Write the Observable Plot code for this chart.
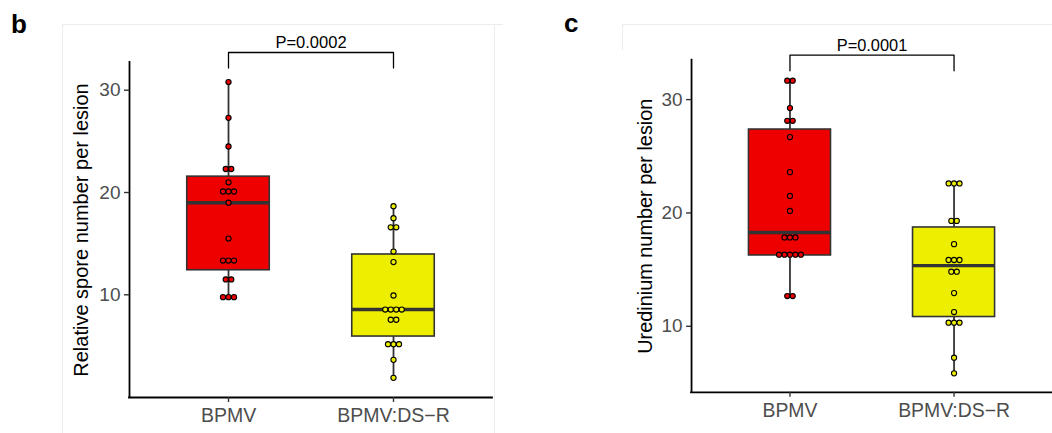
<!DOCTYPE html>
<html><head><meta charset="utf-8">
<script src="https://cdn.jsdelivr.net/npm/d3@7"></script>
<script src="https://cdn.jsdelivr.net/npm/@observablehq/plot@0.6"></script>
<style>
html,body{margin:0;padding:0;background:#fff;overflow:hidden;}
#wrap{position:relative;width:1052px;height:433px;overflow:hidden;font-family:"Liberation Sans",Arial,sans-serif;}
.panel{position:absolute;top:0;}
.letter{position:absolute;font-weight:bold;font-size:26px;line-height:1;color:#000;}
.line{position:absolute;background:#ececec;}
</style></head>
<body>
<div id="wrap">
  <div class="line" style="left:62px;top:24px;width:1px;height:409px"></div>
  <div class="line" style="left:62px;top:24px;width:441px;height:1px"></div>
  <div class="line" style="left:494px;top:24px;width:1px;height:409px"></div>
  <div class="line" style="left:622px;top:24px;width:430px;height:1px"></div>
  <div class="line" style="left:622px;top:24px;width:1px;height:26px"></div>
  <div class="letter" id="lb" style="left:11px;top:11px"></div>
  <div class="letter" id="lc" style="left:564px;top:10px"></div>
  <div class="panel" id="pb" style="left:0px"></div>
  <div class="panel" id="pc" style="left:520px"></div>
</div>
<script>
// ---------- data ----------
const groups = ["BPMV", "BPMV:DS\u2212R"];
const groupColors = ["#EE0000", "#EEEE00"];
const panelLetters = ["b", "c"];
const yTitles = ["Relative spore number per lesion", "Uredinium number per lesion"];
const yTicks = [10, 20, 30];
const pLabels = ["P=0.0002", "P=0.0001"];

// panel b: relative spore number per lesion (dot values)
const spore_BPMV = [30.8, 27.3, 24.5, 22.3, 22.3, 21.0, 20.1, 20.1, 20.1, 19.0, 15.5, 13.35, 13.35, 13.35, 11.5, 11.5, 9.77, 9.77, 9.77];
const spore_DSR = [18.66, 17.49, 16.6, 16.6, 14.23, 13.2, 9.93, 8.56, 8.56, 8.56, 8.56, 7.56, 7.56, 5.17, 5.17, 5.17, 3.64, 1.88];
// panel b box statistics [BPMV, BPMV:DS-R]
const spore_lower = [9.77, 1.88];
const spore_q1 = [12.4, 5.92];
const spore_median = [19.0, 8.56];
const spore_q3 = [21.55, 13.94];
const spore_upper = [30.8, 18.66];

// panel c: uredinium number per lesion (dot values)
const ured_BPMV = [31.67, 31.67, 29.25, 28.13, 28.13, 26.7, 23.6, 21.5, 20.18, 17.84, 17.84, 17.84, 16.32, 16.32, 16.32, 16.32, 16.32, 12.67, 12.67];
const ured_DSR = [22.6, 22.6, 22.6, 19.3, 19.3, 17.25, 15.85, 15.85, 15.85, 14.82, 14.82, 12.93, 11.26, 10.32, 10.32, 10.32, 7.23, 5.85];
// panel c box statistics
const ured_lower = [12.67, 5.85];
const ured_q1 = [16.25, 10.82];
const ured_median = [18.28, 15.35];
const ured_q3 = [27.36, 18.72];
const ured_upper = [31.67, 22.6];

// significance brackets (y levels of bar and tips)
const bracketTop = [33.69, 33.92];
const bracketTip = [32.17, 32.54];

// y-axis extents
const yDomains = [[-0.04, 32.71], [4.18, 33.48]];

// ---------- drawing ----------
const font = '"Liberation Sans", Arial, sans-serif';

function stack(values, gi) {
  const counts = d3.rollup(values, v => v.length, d => d);
  const seen = new Map();
  return values.map(v => {
    const n = counts.get(v), k = seen.get(v) ?? 0;
    seen.set(v, k + 1);
    return {group: gi, value: v, k: k - (n - 1) / 2};
  });
}

function panel(p, sets, stats, geom) {
  const xDomain = [0.4, 2.6];
  const yDomain = yDomains[p];
  const pxPerUnit = (geom.width - geom.marginLeft - geom.marginRight) / (xDomain[1] - xDomain[0]);
  const dotStep = 5.5 / pxPerUnit;
  const dots = sets.flatMap((vals, gi) => stack(vals, gi));
  const idx = d3.range(groups.length);
  const [lower, q1, median, q3, upper] = stats;
  const bracket = [[1, bracketTip[p]], [1, bracketTop[p]], [2, bracketTop[p]], [2, bracketTip[p]]];
  return Plot.plot({
    width: geom.width, height: 433,
    marginLeft: geom.marginLeft, marginRight: geom.marginRight,
    marginTop: geom.marginTop, marginBottom: geom.marginBottom,
    style: {fontFamily: font, background: "transparent", overflow: "visible"},
    x: {domain: xDomain, axis: null},
    y: {domain: yDomain, axis: null},
    color: {domain: groups, range: groupColors},
    marks: [
      Plot.ruleX(idx, {x: i => i + 1, y1: i => lower[i], y2: i => q1[i], stroke: "#333", strokeWidth: 1.8}),
      Plot.ruleX(idx, {x: i => i + 1, y1: i => q3[i], y2: i => upper[i], stroke: "#333", strokeWidth: 1.8}),
      Plot.rect(idx, {x1: i => i + 0.75, x2: i => i + 1.25, y1: i => q1[i], y2: i => q3[i], fill: i => groups[i], stroke: "#333", strokeWidth: 1.6}),
      Plot.ruleY(idx, {y: i => median[i], x1: i => i + 0.75, x2: i => i + 1.25, stroke: "#333", strokeWidth: 3.4}),
      Plot.dot(dots, {x: d => d.group + 1 + d.k * dotStep, y: "value", r: 2.6, fill: d => groups[d.group], stroke: "#000", strokeWidth: 1.1}),
      Plot.ruleX([xDomain[0]], {stroke: "#000", strokeWidth: 1.8, strokeLinecap: "square"}),
      Plot.ruleY([yDomain[0]], {stroke: "#000", strokeWidth: 1.8, strokeLinecap: "square"}),
      Plot.axisY(yTicks, {tickSize: 5, tickPadding: 4, fontSize: 19, stroke: "#333", fill: "#4d4d4d", strokeWidth: 1.4, label: null}),
      Plot.axisY({ticks: [], label: yTitles[p], labelAnchor: "center", labelArrow: false, labelOffset: geom.labelOffset, fontSize: 20, fill: "#000"}),
      Plot.axisX([1, 2], {tickFormat: d => groups[d - 1], tickSize: 5, tickPadding: 6, fontSize: 19.5, stroke: "#333", fill: "#4d4d4d", strokeWidth: 1.4, label: null}),
      Plot.line(bracket, {x: d => d[0], y: d => d[1], stroke: "#000", strokeWidth: 1.3}),
      Plot.text([pLabels[p]], {x: (1 + 2) / 2, y: bracketTop[p], text: d => d, lineAnchor: "bottom", dy: -4, fontSize: 16.5, fill: "#000"})
    ]
  });
}

document.getElementById("lb").textContent = panelLetters[0];
document.getElementById("lc").textContent = panelLetters[1];

document.getElementById("pb").append(panel(0,
  [spore_BPMV, spore_DSR],
  [spore_lower, spore_q1, spore_median, spore_q3, spore_upper],
  {width: 520, marginLeft: 129, marginRight: 28, marginTop: 62, marginBottom: 36, labelOffset: 56}));

document.getElementById("pc").append(panel(1,
  [ured_BPMV, ured_DSR],
  [ured_lower, ured_q1, ured_median, ured_q3, ured_upper],
  {width: 535, marginLeft: 172, marginRight: 0, marginTop: 60, marginBottom: 39, labelOffset: 54}));
</script>
</body></html>
